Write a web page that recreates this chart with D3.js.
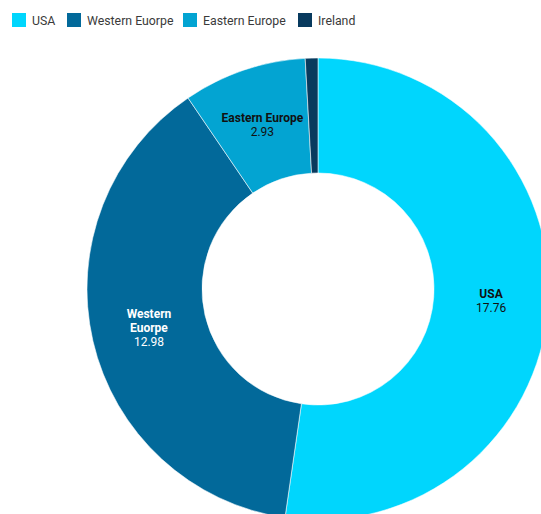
<!DOCTYPE html>
<html>
<head>
<meta charset="utf-8">
<script src="https://cdn.jsdelivr.net/npm/d3@7"></script>
<style>
  html, body { margin: 0; padding: 0; background: #fff; overflow: hidden; }
  svg { display: block; font-family: Roboto, "Noto Sans", sans-serif; }
</style>
</head>
<body>
<svg id="chart"></svg>
<script>
// data
const regions = ["USA", "Western Euorpe", "Eastern Europe", "Ireland"];
const values = [17.76, 12.98, 2.93, 0.3];
const colors = ["#00d6fd", "#02699a", "#03a4d2", "#083a5e"];
const labelColors = ["#111", "#fff", "#111", "#fff"];

// layout
const width = 541;
const height = 514;
const cx = 318, cy = 289;
const outerRadius = 231;
const innerRadius = 116;

const svg = d3.select("#chart")
    .attr("width", width)
    .attr("height", height)
    .attr("viewBox", [0, 0, width, height]);

const data = regions.map((r, i) => ({region: r, value: values[i], i}));
const color = d3.scaleOrdinal(regions, colors);

const pie = d3.pie().sort(null).value(d => d.value);
const arc = d3.arc().innerRadius(innerRadius).outerRadius(outerRadius);
const labelArc = d3.arc()
    .innerRadius((innerRadius + outerRadius) / 2)
    .outerRadius((innerRadius + outerRadius) / 2);

const g = svg.append("g").attr("transform", `translate(${cx},${cy})`);

g.selectAll("path")
    .data(pie(data))
    .join("path")
    .attr("d", arc)
    .attr("fill", d => color(d.data.region))
    .attr("stroke", "#ffffff")
    .attr("stroke-opacity", 0.55)
    .attr("stroke-width", 1);

// slice labels (Ireland is too thin to carry one)
const labels = g.selectAll("g.lbl")
    .data(pie(data).filter(d => d.data.value > 1))
    .join("g")
    .attr("class", "lbl")
    .attr("transform", d => `translate(${labelArc.centroid(d)})`)
    .attr("fill", d => labelColors[d.data.i])
    .attr("text-anchor", "middle")
    .attr("font-size", 12);

labels.each(function(d) {
    const sel = d3.select(this);
    const words = d.data.region === "Western Euorpe" ? ["Western", "Euorpe"] : [d.data.region];
    const lines = words.length + 1;
    const y0 = -(lines - 1) * 14 / 2 + 4;
    words.forEach((w, k) => {
        sel.append("text")
            .attr("y", y0 + k * 14)
            .attr("font-weight", "bold")
            .text(w);
    });
    sel.append("text")
        .attr("y", y0 + words.length * 14)
        .text(d3.format(".2f")(d.data.value));
});

// legend
const legendX = [12, 67, 183, 298];
const legend = svg.append("g")
    .selectAll("g")
    .data(regions)
    .join("g")
    .attr("transform", (d, i) => `translate(${legendX[i]},13)`);

legend.append("rect")
    .attr("width", 14)
    .attr("height", 14)
    .attr("fill", d => color(d));

legend.append("text")
    .attr("x", 20)
    .attr("y", 11.5)
    .attr("font-size", 12.3)
    .attr("fill", "#3a3a3a")
    .text(d => d);
</script>
</body>
</html>
